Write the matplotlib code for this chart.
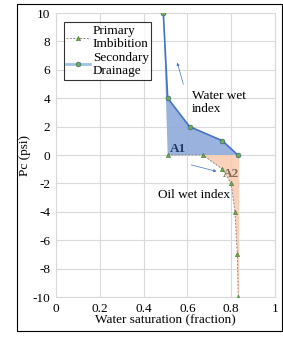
import matplotlib.pyplot as plt
from matplotlib.patches import Rectangle, Polygon

plt.rcParams['font.family'] = ['Liberation Serif', 'DejaVu Serif']
plt.rcParams['axes.unicode_minus'] = False

# Primary imbibition curve
imb_sw = [0.51, 0.67, 0.76, 0.80, 0.817, 0.828, 0.832]
imb_pc = [0, 0, -1, -2, -4, -7, -10]

# Secondary drainage curve
dra_sw = [0.49, 0.51, 0.61, 0.76, 0.83]
dra_pc = [10, 4, 2, 1, 0]

fig = plt.figure(figsize=(2.83, 3.40), dpi=100)
ax = fig.add_axes([56/283, 1-297/340, 219/283, 284/340])

# shaded areas
a1 = [(dra_sw[1], 0)] + list(zip(dra_sw, dra_pc))
ax.add_patch(Polygon(a1, closed=True, facecolor='#8eaadb', edgecolor='none', alpha=0.9, zorder=2))
a2 = list(zip(imb_sw, imb_pc)) + [(0.837, -10), (0.837, 0)]
ax.add_patch(Polygon(a2, closed=True, facecolor='#f8cbad', edgecolor='none', alpha=0.85, zorder=2))

ax.plot(imb_sw, imb_pc, linestyle='--', dashes=(2, 1.5), color='#8c8c8c', lw=0.7,
        marker='^', ms=3, mfc='#70ad47', mec='#3b6e2a', mew=0.4, zorder=4, label='Primary\nImbibition')
ax.plot(dra_sw, dra_pc, color='#4472c4', lw=1.2,
        marker='o', ms=3.5, mfc='#70ad47', mec='#2f5597', mew=0.4, zorder=4, label='Secondary\nDrainage')

ax.set_xlim(0, 1)
ax.set_ylim(-10, 10)
ax.set_xticks([0, 0.2, 0.4, 0.6, 0.8, 1])
ax.set_xticklabels(['0', '0.2', '0.4', '0.6', '0.8', '1'])
ax.set_yticks(range(-10, 11, 2))
ax.grid(True, color='#d9d9d9', lw=0.8)
ax.set_axisbelow(True)
for s in ax.spines.values():
    s.set_color('#d9d9d9')
    s.set_linewidth(0.8)
ax.tick_params(length=0, labelsize=9.5, pad=4)

ax.set_xlabel('Water saturation (fraction)', fontsize=9.5, labelpad=0)
ax.set_ylabel('Pc (psi)', fontsize=9.5, labelpad=1)

leg = ax.legend(loc='upper left', fontsize=9.5, frameon=True, fancybox=False,
                edgecolor='black', handlelength=1.8, handletextpad=0.2,
                borderpad=0.2, labelspacing=0.1, bbox_to_anchor=(0.005, 0.99))
leg.get_frame().set_linewidth(0.8)
for t in leg.get_texts():
    t.set_linespacing(1.15)
leg.get_lines()[1].set_color('#9dc3e6')
leg.get_lines()[1].set_linewidth(2)

ax.text(0.62, 3.7, 'Water wet\nindex', fontsize=9.5, va='center', linespacing=1.2)
ax.annotate('', xy=(0.55, 6.7), xytext=(0.585, 4.8),
            arrowprops=dict(arrowstyle='-|>', color='#4472c4', lw=0.5, mutation_scale=4))
ax.text(0.52, 0.2, 'A1', fontsize=9.5, fontweight='bold', color='#1f3864', zorder=5)
ax.text(0.76, -1.55, 'A2', fontsize=9.5, fontweight='bold', color='#7f6a5a', zorder=5)
ax.annotate('', xy=(0.745, -1.2), xytext=(0.605, -0.65),
            arrowprops=dict(arrowstyle='-|>', color='#4472c4', lw=0.5, mutation_scale=4))
ax.text(0.465, -2.85, 'Oil wet index', fontsize=9.5, va='center')

fig.patches.append(Rectangle((17/283, 1-331/340), 265/283, 327/340, transform=fig.transFigure,
                             fill=False, edgecolor='black', lw=0.8))

fig.savefig('out.png', dpi=100)
